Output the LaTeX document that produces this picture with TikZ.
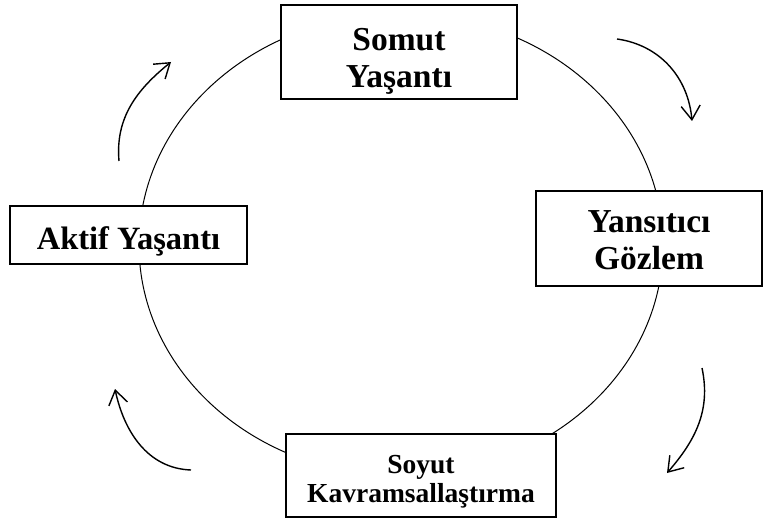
\documentclass[tikz,border=0pt]{standalone}
\usepackage{fontspec}
\setmainfont{Liberation Serif}
\usetikzlibrary{arrows.meta}
\begin{document}
\begin{tikzpicture}[x=1pt, y=1pt,
  stage/.style={draw, line width=1.5pt, fill=white, align=center, inner sep=0pt,
    font=\bfseries\fontsize{33.5}{37}\selectfont},
  turn/.style={line width=1.4pt, -{Straight Barb[length=14pt, width=19pt]}}]
  \useasboundingbox (0,0) rectangle (763,520);
  \draw[line width=1pt] (401,275) ellipse [x radius=262pt, y radius=231pt];
  \node[stage, minimum width=236pt, minimum height=94pt] (somut) at (399,468) {\rule{0pt}{40pt}Somut\\Yaşantı};
  \node[stage, minimum width=226pt, minimum height=95pt] (yansit) at (649,281.5) {\rule{0pt}{26pt}Yansıtıcı\\Gözlem};
  \node[stage, minimum width=270pt, minimum height=83pt, font=\bfseries\fontsize{27.5}{29.5}\selectfont] (soyut) at (421,44.5) {\rule{0pt}{31pt}Soyut\\Kavramsallaştırma};
  \node[stage, minimum width=237pt, minimum height=58pt, text height=36pt, text depth=6pt, font=\bfseries\fontsize{32.5}{37}\selectfont] (aktif) at (128.5,285) {Aktif Yaşantı};
  \coordinate (t1) at (119,359);  \coordinate (h1) at (171,458);
  \coordinate (t2) at (617,481);  \coordinate (h2) at (692,399);
  \coordinate (t3) at (702,152);  \coordinate (h3) at (667,47);
  \coordinate (t4) at (191,50);   \coordinate (h4) at (115,131);
  \draw[turn] (t1) to[out=95, in=219] (h1);
  \draw[turn] (t2) to[out=-8, in=95] (h2);
  \draw[turn] (t3) to[out=-78, in=49] (h3);
  \draw[turn] (t4) to[out=178, in=-78] (h4);
\end{tikzpicture}
\end{document}
